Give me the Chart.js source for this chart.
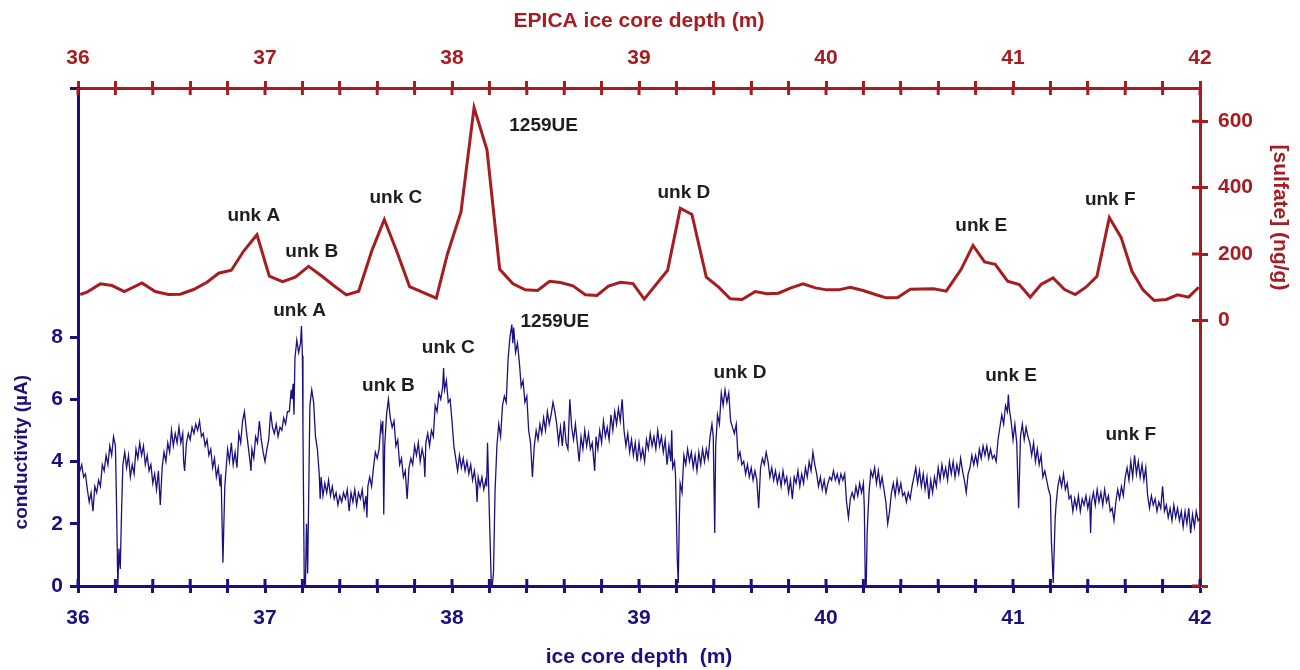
<!DOCTYPE html>
<html lang="en">
<head>
<meta charset="UTF-8">
<title>Conductivity and sulfate vs ice core depth</title>
<script src="https://cdn.jsdelivr.net/npm/chart.js"></script>
<style>
  body { margin: 0; background: #fff; }
</style>
</head>
<body>
<canvas id="myChart" width="1300" height="670"></canvas>
<script>
// sulfate (ng/g) against EPICA ice core depth (m)
const sulfate = [
  [36.012,78],[36.048,85],[36.119,110],[36.182,105],[36.248,87],[36.342,113],[36.413,87],[36.484,78],
  [36.547,79],[36.618,93],[36.690,115],[36.752,142],[36.820,151],[36.886,209],[36.957,258],[37.023,133],
  [37.094,117],[37.162,130],[37.233,163],[37.305,133],[37.367,105],[37.435,77],[37.501,88],[37.572,211],
  [37.638,304],[37.706,206],[37.773,102],[37.916,67],[37.976,201],[38.048,327],[38.118,641],[38.187,514],
  [38.255,154],[38.326,110],[38.392,92],[38.458,90],[38.522,118],[38.579,114],[38.647,104],[38.713,77],
  [38.775,75],[38.837,103],[38.900,115],[38.968,111],[39.028,64],[39.153,151],[39.221,338],[39.283,319],
  [39.360,130],[39.426,100],[39.488,65],[39.551,63],[39.622,87],[39.684,80],[39.746,82],[39.809,97],
  [39.877,110],[39.943,98],[40.005,92],[40.067,92],[40.130,100],[40.198,90],[40.264,78],[40.322,68],
  [40.383,69],[40.451,94],[40.575,95],[40.643,88],[40.722,153],[40.786,226],[40.848,176],[40.905,169],
  [40.971,118],[41.034,108],[41.092,70],[41.150,108],[41.214,128],[41.276,93],[41.333,78],[41.390,100],
  [41.449,133],[41.515,310],[41.578,250],[41.636,148],[41.695,92],[41.755,60],[41.820,63],[41.880,77],
  [41.939,70],[41.993,100]
];

// conductivity (uA) against ice core depth (m)
const conductivity = [
  [36.00,4.0],[36.01,3.7],[36.02,3.9],[36.03,3.5],[36.04,3.6],[36.05,3.1],[36.06,2.7],[36.07,3.0],[36.08,2.4],[36.09,3.2],
  [36.10,3.0],[36.11,3.4],[36.12,3.2],[36.13,3.9],[36.14,3.7],[36.15,4.2],[36.16,3.9],[36.17,4.5],[36.18,4.2],[36.19,4.8],
  [36.20,4.5],[36.205,3.0],[36.213,0.0],[36.219,1.2],[36.226,0.55],[36.233,2.4],[36.24,3.9],[36.25,4.3],[36.26,3.8],[36.27,4.2],
  [36.28,3.5],[36.29,3.9],[36.30,3.6],[36.31,4.4],[36.32,4.1],[36.33,4.6],[36.34,4.2],[36.35,4.5],[36.36,3.9],[36.37,4.2],
  [36.38,3.7],[36.39,3.9],[36.40,3.3],[36.41,3.6],[36.42,3.1],[36.43,3.7],[36.44,2.6],[36.45,3.8],[36.46,4.3],[36.47,4.0],
  [36.48,4.6],[36.49,4.3],[36.50,5.0],[36.51,4.5],[36.52,4.9],[36.53,4.6],[36.54,5.1],[36.55,4.6],[36.56,4.9],[36.565,4.0],
  [36.57,3.7],[36.58,4.6],[36.59,4.9],[36.60,4.7],[36.61,5.1],[36.62,4.9],[36.63,5.2],[36.64,5.0],[36.65,5.3],[36.66,4.8],
  [36.67,4.9],[36.68,4.5],[36.69,4.7],[36.70,4.2],[36.71,4.4],[36.72,3.8],[36.73,4.1],[36.74,3.5],[36.75,3.8],[36.76,3.2],
  [36.765,3.6],[36.775,0.75],[36.785,3.2],[36.79,3.6],[36.80,4.4],[36.81,4.0],[36.82,4.6],[36.83,3.9],[36.84,4.3],[36.85,3.8],
  [36.86,4.9],[36.87,4.6],[36.88,5.3],[36.89,5.6],[36.90,5.0],[36.91,4.5],[36.92,4.0],[36.925,3.7],[36.93,4.4],[36.94,4.1],
  [36.95,4.8],[36.96,4.6],[36.97,5.3],[36.98,4.7],[36.99,4.3],[37.00,4.0],[37.01,4.4],[37.02,4.7],[37.03,5.6],[37.04,5.1],
  [37.05,4.9],[37.06,5.2],[37.07,4.8],[37.08,5.1],[37.09,5.0],[37.10,5.4],[37.11,5.2],[37.12,5.6],[37.13,5.6],[37.14,6.3],
  [37.145,6.0],[37.15,6.5],[37.155,5.5],[37.16,7.3],[37.17,7.9],[37.18,7.5],[37.19,7.8],[37.195,8.35],[37.20,7.4],[37.203,5.0],
  [37.21,0.1],[37.216,0.0],[37.222,2.0],[37.228,0.4],[37.235,3.5],[37.24,5.8],[37.25,6.3],[37.26,5.9],[37.27,4.8],[37.28,4.4],
  [37.29,3.6],[37.295,2.8],[37.30,3.5],[37.31,2.9],[37.32,3.3],[37.33,3.0],[37.34,3.4],[37.35,2.9],[37.36,3.2],[37.37,2.8],
  [37.38,3.0],[37.39,2.6],[37.40,2.9],[37.41,2.7],[37.42,3.0],[37.43,2.8],[37.44,3.1],[37.45,2.4],[37.46,3.0],[37.47,2.7],
  [37.48,3.1],[37.49,2.6],[37.50,3.0],[37.51,2.8],[37.52,3.1],[37.53,2.5],[37.54,2.9],[37.545,2.2],[37.55,3.2],[37.56,3.5],
  [37.57,3.2],[37.58,3.8],[37.59,4.3],[37.60,4.1],[37.61,4.4],[37.62,5.2],[37.625,5.0],[37.63,5.3],[37.635,2.3],[37.64,4.5],
  [37.65,5.5],[37.66,6.0],[37.67,5.4],[37.68,5.1],[37.69,5.3],[37.70,4.5],[37.71,4.7],[37.72,3.9],[37.73,4.1],[37.74,3.5],
  [37.75,3.7],[37.76,2.8],[37.77,3.8],[37.78,4.1],[37.79,3.9],[37.80,4.5],[37.81,4.2],[37.82,4.6],[37.83,4.0],[37.84,4.4],
  [37.85,4.1],[37.855,3.5],[37.86,4.6],[37.87,4.9],[37.88,4.5],[37.89,5.0],[37.90,4.8],[37.91,5.8],[37.92,5.6],[37.93,6.2],
  [37.94,6.0],[37.95,6.4],[37.955,7.0],[37.96,6.3],[37.97,6.6],[37.98,5.9],[37.99,6.0],[38.00,5.3],[38.01,4.5],[38.02,4.1],
  [38.03,3.7],[38.04,4.2],[38.05,3.8],[38.06,4.1],[38.07,3.7],[38.08,4.0],[38.09,3.6],[38.10,3.9],[38.11,3.4],[38.12,3.7],
  [38.13,3.2],[38.134,2.7],[38.14,3.5],[38.15,3.2],[38.16,3.5],[38.17,3.1],[38.18,3.4],[38.185,3.2],[38.19,4.6],[38.20,2.3],
  [38.21,0.1],[38.215,0.0],[38.222,0.45],[38.23,3.0],[38.24,4.5],[38.25,5.2],[38.26,4.8],[38.27,5.8],[38.28,6.1],[38.29,5.9],
  [38.30,7.3],[38.31,8.0],[38.32,8.4],[38.325,7.8],[38.33,8.3],[38.34,7.5],[38.35,7.8],[38.36,7.2],[38.37,6.4],[38.38,6.6],
  [38.39,5.9],[38.40,6.1],[38.41,5.0],[38.42,4.6],[38.43,3.5],[38.44,4.5],[38.45,5.0],[38.46,4.7],[38.47,5.2],[38.48,4.9],
  [38.49,5.4],[38.50,5.0],[38.51,5.6],[38.52,5.2],[38.53,5.5],[38.54,5.9],[38.55,5.6],[38.56,5.2],[38.57,4.6],[38.58,5.1],
  [38.59,4.5],[38.60,5.3],[38.61,4.6],[38.62,4.4],[38.63,6.0],[38.64,5.1],[38.65,4.7],[38.66,5.2],[38.67,4.6],[38.68,4.0],
  [38.69,4.8],[38.70,4.4],[38.71,5.0],[38.72,4.5],[38.73,4.9],[38.74,4.4],[38.75,4.6],[38.763,3.7],[38.77,4.8],[38.78,4.4],
  [38.79,5.0],[38.80,4.6],[38.81,5.3],[38.82,4.8],[38.83,5.1],[38.84,4.7],[38.85,5.5],[38.86,5.0],[38.87,5.6],[38.88,5.2],
  [38.89,5.7],[38.90,5.3],[38.91,6.0],[38.92,5.0],[38.93,4.5],[38.94,4.9],[38.95,4.3],[38.96,4.7],[38.97,4.2],[38.98,4.6],
  [38.99,4.0],[39.00,4.6],[39.01,4.1],[39.02,4.4],[39.03,4.0],[39.04,4.7],[39.05,4.4],[39.06,4.9],[39.07,4.5],[39.08,4.8],
  [39.09,4.4],[39.10,5.0],[39.11,4.5],[39.12,4.8],[39.13,4.3],[39.14,4.7],[39.15,3.9],[39.16,4.5],[39.17,4.0],[39.175,5.0],
  [39.18,3.8],[39.19,4.0],[39.195,3.6],[39.205,0.8],[39.21,0.1],[39.215,2.0],[39.22,3.3],[39.23,3.0],[39.24,4.2],[39.25,3.9],
  [39.26,4.4],[39.27,4.0],[39.28,4.3],[39.29,3.8],[39.30,4.2],[39.31,3.7],[39.32,4.3],[39.33,3.9],[39.34,4.4],[39.35,4.0],
  [39.36,4.4],[39.37,4.1],[39.38,4.8],[39.39,5.2],[39.397,4.8],[39.405,1.7],[39.41,4.5],[39.42,5.5],[39.43,5.2],[39.44,6.2],
  [39.45,5.8],[39.46,6.3],[39.47,5.9],[39.48,6.2],[39.49,5.3],[39.50,5.1],[39.51,4.9],[39.52,5.2],[39.53,4.1],[39.54,4.3],
  [39.55,3.9],[39.56,4.0],[39.57,3.6],[39.58,3.9],[39.59,3.5],[39.60,3.8],[39.61,3.4],[39.62,3.7],[39.63,3.4],[39.64,2.5],
  [39.65,3.8],[39.66,4.1],[39.67,3.9],[39.68,4.3],[39.69,4.0],[39.70,3.5],[39.71,3.8],[39.72,3.4],[39.73,3.7],[39.74,3.3],
  [39.75,3.6],[39.76,3.2],[39.77,3.7],[39.78,3.3],[39.79,3.5],[39.80,3.0],[39.81,3.4],[39.82,2.8],[39.83,3.5],[39.84,3.3],
  [39.85,3.7],[39.86,3.2],[39.87,3.6],[39.88,3.3],[39.89,3.8],[39.90,3.5],[39.91,4.0],[39.92,3.7],[39.93,4.3],[39.94,3.9],
  [39.95,3.6],[39.96,3.2],[39.97,3.5],[39.98,3.1],[39.99,3.4],[40.00,3.0],[40.01,3.3],[40.02,3.5],[40.03,3.4],[40.04,3.7],
  [40.05,3.4],[40.06,3.6],[40.07,3.3],[40.08,3.6],[40.09,3.4],[40.10,3.6],[40.11,2.7],[40.12,2.2],[40.13,2.8],[40.14,3.0],
  [40.15,2.8],[40.16,3.2],[40.17,2.9],[40.18,3.3],[40.19,3.0],[40.20,3.3],[40.205,2.5],[40.21,0.1],[40.215,0.0],[40.22,1.7],
  [40.23,3.0],[40.24,3.7],[40.25,3.5],[40.26,3.8],[40.27,3.3],[40.28,3.7],[40.29,3.2],[40.30,3.5],[40.31,3.1],[40.32,2.7],
  [40.33,2.0],[40.34,2.4],[40.35,3.0],[40.36,3.3],[40.37,2.9],[40.38,3.4],[40.39,3.0],[40.40,3.3],[40.41,2.9],[40.42,3.0],
  [40.43,2.7],[40.44,3.0],[40.45,2.8],[40.46,3.2],[40.47,3.5],[40.48,3.8],[40.49,3.3],[40.50,3.7],[40.51,3.2],[40.52,3.6],
  [40.53,3.1],[40.54,3.5],[40.55,2.8],[40.56,3.4],[40.57,3.0],[40.58,3.5],[40.59,3.2],[40.60,3.8],[40.61,3.4],[40.62,3.9],
  [40.63,3.5],[40.64,3.8],[40.65,3.4],[40.66,4.0],[40.67,3.6],[40.68,4.0],[40.69,3.5],[40.70,3.9],[40.71,3.6],[40.72,4.1],
  [40.73,3.7],[40.74,3.4],[40.75,3.0],[40.76,3.6],[40.77,3.8],[40.78,4.2],[40.79,3.9],[40.80,4.2],[40.81,3.9],[40.82,4.4],
  [40.83,4.1],[40.84,4.5],[40.85,4.2],[40.86,4.5],[40.87,4.1],[40.88,4.4],[40.89,4.1],[40.90,4.2],[40.91,4.0],[40.92,4.7],
  [40.93,5.1],[40.94,5.5],[40.95,5.2],[40.96,5.8],[40.97,5.6],[40.975,6.15],[40.98,5.7],[40.99,5.3],[41.00,4.7],[41.01,5.2],
  [41.02,4.6],[41.03,2.5],[41.04,4.8],[41.05,5.2],[41.06,4.7],[41.07,5.1],[41.08,4.8],[41.09,4.6],[41.10,4.2],[41.11,4.6],
  [41.12,4.0],[41.13,4.4],[41.14,3.9],[41.15,4.2],[41.16,3.5],[41.17,3.7],[41.18,3.4],[41.19,3.1],[41.20,2.9],[41.205,1.5],
  [41.215,0.1],[41.225,2.1],[41.23,2.6],[41.24,3.2],[41.25,3.5],[41.26,3.2],[41.27,3.6],[41.28,3.1],[41.29,3.3],[41.30,2.8],
  [41.31,2.9],[41.32,2.4],[41.33,2.8],[41.34,2.5],[41.35,2.9],[41.36,2.4],[41.37,2.8],[41.38,2.6],[41.39,2.9],[41.40,2.5],
  [41.41,2.8],[41.415,1.7],[41.42,2.7],[41.43,3.0],[41.44,2.6],[41.45,3.1],[41.46,2.7],[41.47,3.0],[41.48,2.6],[41.49,3.1],
  [41.50,2.7],[41.51,2.9],[41.52,2.4],[41.53,2.5],[41.54,2.1],[41.55,2.7],[41.56,3.1],[41.57,2.8],[41.58,3.2],[41.59,2.9],
  [41.60,3.5],[41.61,3.8],[41.62,3.4],[41.63,4.0],[41.64,3.5],[41.65,4.2],[41.66,3.6],[41.67,4.0],[41.68,3.5],[41.69,3.9],
  [41.70,3.4],[41.71,3.8],[41.72,2.9],[41.73,2.5],[41.74,2.9],[41.75,2.6],[41.76,2.8],[41.77,2.4],[41.78,2.7],[41.79,2.5],
  [41.80,3.2],[41.81,2.4],[41.82,2.6],[41.83,2.2],[41.84,2.5],[41.85,2.1],[41.86,2.6],[41.87,2.2],[41.88,2.5],[41.89,2.1],
  [41.90,2.4],[41.91,1.9],[41.92,2.4],[41.93,2.0],[41.94,2.5],[41.95,1.7],[41.96,2.3],[41.97,1.9],[41.98,2.4],[41.99,2.1],
  [42.00,2.2]
];

// event labels: [text, depth, value]
const sulfateLabels = [
  ['unk A', 36.94, 314], ['unk B', 37.25, 208], ['unk C', 37.70, 369], ['1259UE', 38.49, 587],
  ['unk D', 39.24, 384], ['unk E', 40.83, 286], ['unk F', 41.52, 362]
];
const condLabels = [
  ['unk A', 37.185, 8.83], ['unk B', 37.66, 6.44], ['unk C', 37.98, 7.64], ['1259UE', 38.55, 8.5],
  ['unk D', 39.54, 6.86], ['unk E', 40.99, 6.77], ['unk F', 41.63, 4.86]
];

const condTicks = [0, 2, 4, 6, 8, 16];
const sulfateTicks = [-800, 0, 200, 400, 600];

const NAVY = '#1a1180';
const RED = '#a61c20';
const FONT = "'Liberation Sans', Arial, sans-serif";
const tickFont = { family: FONT, size: 21, weight: 'bold' };

function depthLabel(v) {
  const r = Math.round(v);
  return Math.abs(v - r) < 1e-6 ? String(r) : '';
}

// second half of the crossing ticks, labels and side titles
const overlay = {
  id: 'overlay',
  afterDraw(chart) {
    const { ctx, chartArea: a, scales } = chart;
    ctx.save();
    ctx.lineWidth = 3;
    ctx.strokeStyle = NAVY;
    ctx.beginPath();
    scales.x.ticks.forEach(t => {
      const p = scales.x.getPixelForValue(t.value);
      ctx.moveTo(p, a.bottom); ctx.lineTo(p, a.bottom - 7);
    });
    ctx.stroke();
    ctx.strokeStyle = RED;
    ctx.beginPath();
    scales.x2.ticks.forEach(t => {
      const p = scales.x2.getPixelForValue(t.value);
      ctx.moveTo(p, a.top); ctx.lineTo(p, a.top + 7);
    });
    scales.ySul.ticks.forEach(t => {
      const p = scales.ySul.getPixelForValue(t.value);
      ctx.moveTo(a.right, p); ctx.lineTo(a.right - 8, p);
    });
    ctx.stroke();

    ctx.font = 'bold 19px ' + FONT;
    ctx.fillStyle = '#1e1e1e';
    ctx.textAlign = 'center';
    ctx.textBaseline = 'middle';
    sulfateLabels.forEach(([t, d, v]) => {
      ctx.fillText(t, scales.x2.getPixelForValue(d), scales.ySul.getPixelForValue(v));
    });
    condLabels.forEach(([t, d, v]) => {
      ctx.fillText(t, scales.x.getPixelForValue(d), scales.yCond.getPixelForValue(v));
    });

    ctx.font = 'bold 19px ' + FONT;
    ctx.fillStyle = NAVY;
    ctx.translate(22, scales.yCond.getPixelForValue(4.3));
    ctx.rotate(-Math.PI / 2);
    ctx.fillText('conductivity (µA)', 0, 0);
    ctx.setTransform(1, 0, 0, 1, 0, 0);
    ctx.font = 'bold 21px ' + FONT;
    ctx.fillStyle = RED;
    ctx.translate(1280, scales.ySul.getPixelForValue(310));
    ctx.rotate(Math.PI / 2);
    ctx.fillText('[sulfate] (ng/g)', 0, 0);
    ctx.restore();
  }
};

const ctx = document.getElementById('myChart').getContext('2d');

const chart = new Chart(ctx, {
  type: 'line',
  data: {
    datasets: [{
      label: 'sulfate',
      data: sulfate.map(p => ({ x: p[0], y: p[1] })),
      borderColor: RED,
      borderWidth: 3,
      pointRadius: 0,
      fill: false,
      xAxisID: 'x2',
      yAxisID: 'ySul'
    }, {
      label: 'conductivity',
      data: conductivity.map(p => ({ x: p[0], y: p[1] })),
      borderColor: NAVY,
      borderWidth: 1.3,
      pointRadius: 0,
      fill: false,
      xAxisID: 'x',
      yAxisID: 'yCond'
    }]
  },
  options: {
    responsive: false,
    animation: false,
    layout: { padding: 0 },
    plugins: {
      legend: { display: false },
      tooltip: { enabled: false }
    },
    scales: {
      x: {
        type: 'linear',
        position: 'bottom',
        min: 36,
        max: 42,
        afterFit(s) { s.height = 84; },
        border: { color: NAVY, width: 3 },
        grid: { drawOnChartArea: false, tickLength: 7, tickWidth: 3, tickColor: NAVY },
        ticks: { stepSize: 0.2, autoSkip: false, maxRotation: 0, color: NAVY, font: tickFont, padding: 13, callback: depthLabel },
        title: { display: true, text: 'ice core depth  (m)', color: NAVY, font: tickFont, padding: { top: 0, bottom: 0 } }
      },
      x2: {
        type: 'linear',
        position: 'top',
        min: 36,
        max: 42,
        afterFit(s) { s.height = 88; },
        border: { color: RED, width: 3 },
        grid: { drawOnChartArea: false, tickLength: 7, tickWidth: 3, tickColor: RED },
        ticks: { stepSize: 0.2, autoSkip: false, maxRotation: 0, color: RED, font: tickFont, padding: 10, callback: depthLabel },
        title: { display: true, text: 'EPICA ice core depth (m)', color: RED, font: tickFont, padding: { top: 9, bottom: 0 } }
      },
      yCond: {
        type: 'linear',
        position: 'left',
        min: 0,
        max: 16,
        afterFit(s) { s.width = 78; },
        afterBuildTicks(s) { s.ticks = condTicks.map(v => ({ value: v })); },
        border: { color: NAVY, width: 3 },
        grid: { drawOnChartArea: false, tickLength: 8, tickWidth: 3, tickColor: NAVY },
        ticks: { color: NAVY, font: tickFont, padding: 7, callback: v => (v <= 8 ? String(v) : '') }
      },
      ySul: {
        type: 'linear',
        position: 'right',
        min: -800,
        max: 700,
        afterFit(s) { s.width = 100; },
        afterBuildTicks(s) { s.ticks = sulfateTicks.map(v => ({ value: v })); },
        border: { color: RED, width: 3 },
        grid: { drawOnChartArea: false, tickLength: 8, tickWidth: 3, tickColor: RED },
        ticks: { color: RED, font: tickFont, padding: 10, callback: v => (v >= 0 ? String(v) : '') }
      }
    }
  },
  plugins: [overlay]
});
</script>
</body>
</html>
